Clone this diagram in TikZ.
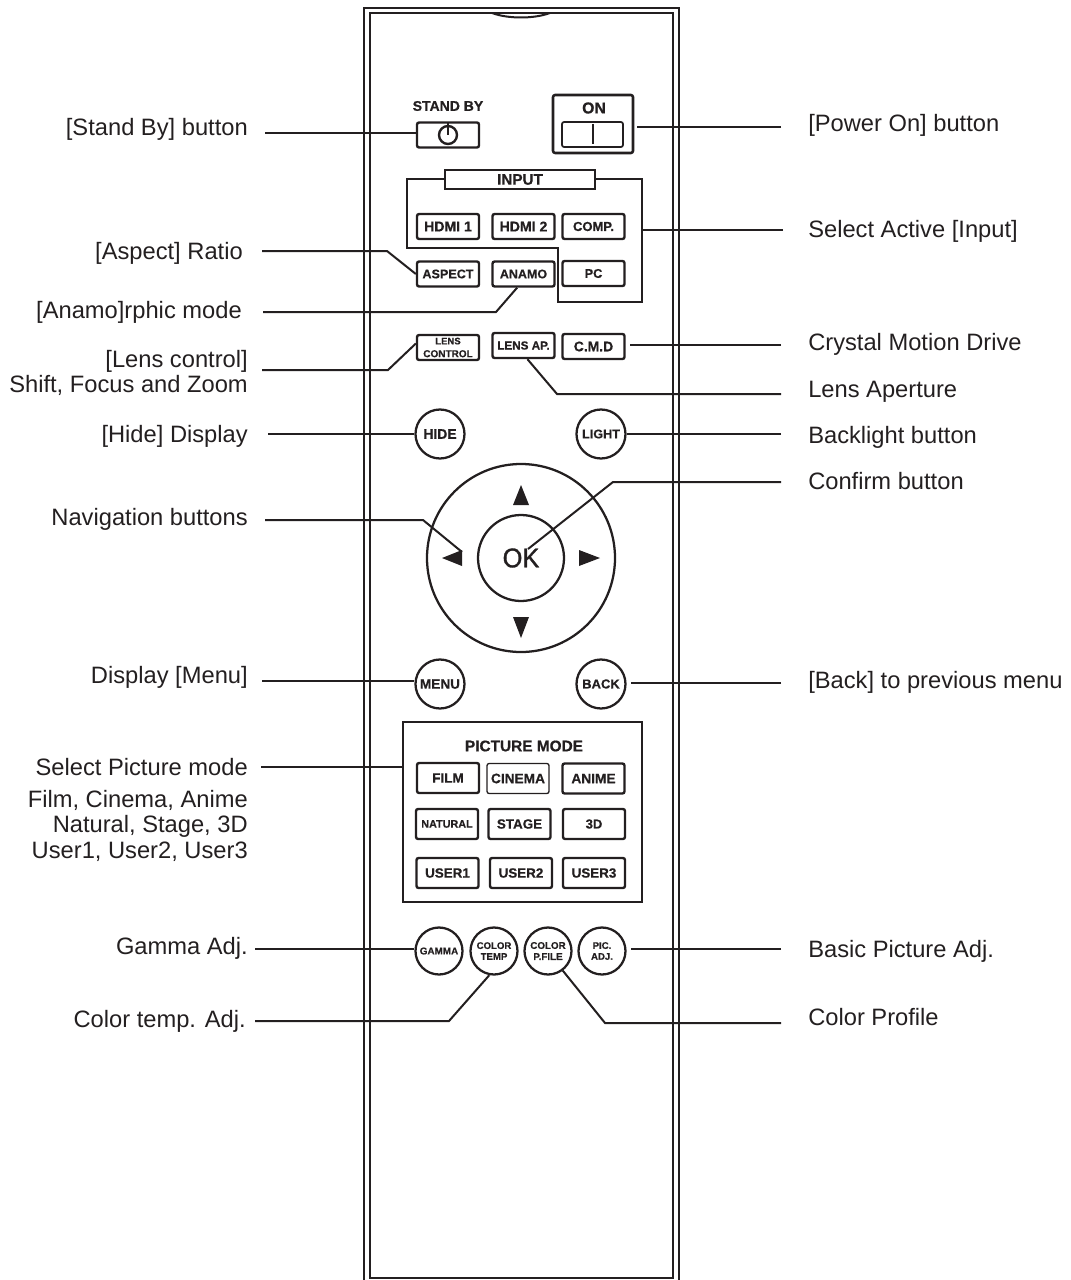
\documentclass[tikz,border=0pt]{standalone}
\usepackage{fontspec}
\setmainfont[BoldFeatures={FakeBold=0.6}]{Liberation Sans}
\newfontface\okface[FakeBold=1.2,FakeStretch=0.94]{Liberation Sans}
\usetikzlibrary{calc}
\definecolor{ink}{HTML}{231F20}
\newcommand{\pxf}[1]{\fontsize{\the\dimexpr #1pt*3/4\relax}{\the\dimexpr #1pt*9/10\relax}\selectfont}
\tikzset{
  rline/.style={draw=ink,line width=1.5pt},
  conn/.style={draw=ink,line width=1.5pt,line join=miter},
  btn/.style={draw=ink,line width=1.8pt,rounded corners=1.6pt,inner sep=0pt,text=ink,minimum width=46.5pt,minimum height=18.75pt,align=center},
  pbtn/.style={btn,minimum height=22.5pt},
  rnd/.style={draw=ink,line width=1.7pt,circle,inner sep=0pt,text=ink,minimum size=36.75pt,align=center},
  rnds/.style={rnd,minimum size=35.25pt},
  captxt/.style={inner sep=0pt,text=ink,font=\bfseries\pxf{14}},
  lbl/.style={inner sep=0pt,text=ink,font=\pxf{23.7},text height=12.8pt,text depth=0pt},
  lblL/.style={lbl,anchor=east},
  lblR/.style={lbl,anchor=west},
}
\begin{document}
\begin{tikzpicture}[x=0.75pt,y=-0.75pt]
\useasboundingbox (0,0) rectangle (1070,1280);
% body of the remote
\draw[rline,line width=1.8pt] (364,1280) -- (364,8) -- (679,8) -- (679,1280);
\draw[rline,line width=1.8pt] (370,13) rectangle (673,1278);
\draw[rline] (492,13) .. controls (508,19) and (534,19) .. (550,13);
% top buttons
\node[captxt,font=\bfseries\pxf{14}] (standbycap) at (448,106) {STAND BY};
\node[btn] (standby) at (448,135) {};
\draw[rline,line width=1.8pt] (448,135) circle (9);
\draw[rline,line width=1.8pt] (448,123) -- (448,135);
\node[btn,line width=1.9pt,minimum width=60pt,minimum height=43.5pt] (on) at (593,124) {};
\node[captxt,font=\bfseries\pxf{15.8}] (oncap) at (594,108) {ON};
\node[btn,line width=1.3pt,minimum width=45.75pt,minimum height=18.75pt] (onsw) at (592.5,134.5) {};
\draw[rline] (593,124) -- (593,144);
% input group
\draw[rline] (445,179) -- (407,179) -- (407,248) -- (558,248) -- (558,302) -- (642,302) -- (642,179) -- (595,179);
\node[btn,rounded corners=0pt,minimum width=112.5pt,minimum height=14.25pt,font=\bfseries\pxf{15.3}] (input) at (520,179.5) {INPUT};
\node[btn,font=\bfseries\pxf{14.1}] (hdmi1) at (448,226.5) {HDMI 1};
\node[btn,font=\bfseries\pxf{14.1}] (hdmi2) at (523.5,226.5) {HDMI 2};
\node[btn,font=\bfseries\pxf{13}] (comp) at (593.5,226.5) {COMP.};
\node[btn,font=\bfseries\pxf{12.6}] (aspect) at (448,274) {ASPECT};
\node[btn,font=\bfseries\pxf{12.5}] (anamo) at (523.5,274) {ANAMO};
\node[btn,font=\bfseries\pxf{12.7}] (pc) at (593.5,273.5) {PC};
% lens row
\node[btn,font=\bfseries\pxf{10}] (lensctl) at (448,347.5) {\pxf{9.5}\bfseries LENS\\[0.6pt]\pxf{10}\bfseries CONTROL};
\node[btn,font=\bfseries\pxf{11.7}] (lensap) at (523.5,345.5) {LENS AP.};
\node[btn,font=\bfseries\pxf{13.9}] (cmd) at (593.5,346.5) {C.M.D};
% round buttons
\node[rnd,font=\bfseries\pxf{13.9}] (hide) at (440,434) {HIDE};
\node[rnd,font=\bfseries\pxf{12.6}] (light) at (601,434) {LIGHT};
\node[rnd,font=\bfseries\pxf{13.6}] (menu) at (440,684) {MENU};
\node[rnd,font=\bfseries\pxf{13}] (back) at (601,684) {BACK};
% navigation
\node[draw=ink,line width=1.7pt,circle,minimum size=141pt,inner sep=0pt] (nav) at (521,558) {};
\node[draw=ink,line width=1.7pt,circle,minimum size=64.5pt,inner sep=0pt,text=ink,font=\okface\pxf{27}] (ok) at (521,558) {OK};
\fill[ink] (521,485) -- (529,505) -- (513,505) -- cycle;
\fill[ink] (521,638) -- (529,617) -- (513,617) -- cycle;
\fill[ink] (442,558) -- (462,550) -- (462,566) -- cycle;
\fill[ink] (600,558) -- (579,550) -- (579,566) -- cycle;
% picture mode
\node[draw=ink,line width=1.5pt,minimum width=179.25pt,minimum height=135pt,inner sep=0pt] (picbox) at (522.5,812) {};
\node[captxt,font=\bfseries\pxf{15.4}] (piccap) at (524,746) {PICTURE MODE};
\node[pbtn,font=\bfseries\pxf{13.6}] (film) at (448,778) {FILM};
\node[pbtn,line width=1pt,font=\bfseries\pxf{13.7}] (cinema) at (518,778.5) {CINEMA};
\node[pbtn,font=\bfseries\pxf{13.7}] (anime) at (593.5,778.5) {ANIME};
\node[pbtn,font=\bfseries\pxf{10.8}] (natural) at (447,824) {NATURAL};
\node[pbtn,font=\bfseries\pxf{13.4}] (stage) at (519.5,824) {STAGE};
\node[pbtn,font=\bfseries\pxf{13}] (three) at (594,824) {3D};
\node[pbtn,font=\bfseries\pxf{13.4}] (user1) at (447.5,873) {USER1};
\node[pbtn,font=\bfseries\pxf{13.4}] (user2) at (521,873) {USER2};
\node[pbtn,font=\bfseries\pxf{13.4}] (user3) at (594,873) {USER3};
% bottom round buttons
\node[rnds,font=\bfseries\pxf{9.9}] (gamma) at (439,951) {GAMMA};
\node[rnds,font=\bfseries\pxf{9.6}] (ctemp) at (494,951) {COLOR\\[-0.5pt]TEMP};
\node[rnds,font=\bfseries\pxf{9.8}] (cfile) at (548,951) {COLOR\\[-0.5pt]P.FILE};
\node[rnds,font=\bfseries\pxf{9.6}] (picadj) at (602,951) {PIC.\\[-0.5pt]ADJ.};
% labels left
\node[lblL] (lstandby) at (248,127) {[Stand By] button};
\node[lblL] (laspect) at (243,251) {[Aspect] Ratio};
\node[lblL] (lanamo) at (242,310) {[Anamo]rphic mode};
\node[lblL] (llens) at (248,359) {[Lens control]};
\node[lblL] (lshift) at (248,384) {Shift, Focus and Zoom};
\node[lblL] (lhide) at (248,434) {[Hide] Display};
\node[lblL] (lnav) at (248,517) {Navigation buttons};
\node[lblL] (lmenu) at (248,675) {Display [Menu]};
\node[lblL] (lpic) at (248,767) {Select Picture mode};
\node[lblL] (lpic1) at (248,799) {Film, Cinema, Anime};
\node[lblL] (lpic2) at (248,824) {Natural, Stage, 3D};
\node[lblL] (lpic3) at (248,850) {User1, User2, User3};
\node[lblL] (lgamma) at (248,946) {Gamma Adj.};
\node[lblL] (lctemp) at (246,1019) {Color temp. Adj.};
% labels right
\node[lblR] (ron) at (808,123) {[Power On] button};
\node[lblR] (rinput) at (808,229) {Select Active [Input]};
\node[lblR] (rcmd) at (808,342) {Crystal Motion Drive};
\node[lblR] (rap) at (808,389) {Lens Aperture};
\node[lblR] (rlight) at (808,435) {Backlight button};
\node[lblR] (rok) at (808,481) {Confirm button};
\node[lblR] (rback) at (808,680) {[Back] to previous menu};
\node[lblR] (rpic) at (808,949) {Basic Picture Adj.};
\node[lblR] (rprof) at (808,1017) {Color Profile};
% free ends of connectors
\coordinate (cstandby) at (265,133);
\coordinate (caspect) at (262,251);
\coordinate (canamo) at (263,312);
\coordinate (clens) at (262,370);
\coordinate (chide) at (268,434);
\coordinate (cnav) at (265,520);
\coordinate (cmenu) at (262,681);
\coordinate (cpic) at (261,767);
\coordinate (cgamma) at (255,949);
\coordinate (cctemp) at (255,1021);
\coordinate (con) at (781,127);
\coordinate (cinput) at (783,230);
\coordinate (ccmd) at (781,345);
\coordinate (cap1) at (781,394);
\coordinate (clight) at (781,434);
\coordinate (cok) at (781,482);
\coordinate (cback) at (781,683);
\coordinate (cpicadj) at (781,949);
\coordinate (cprof) at (781,1023);
\coordinate (okend) at (528,549);
\coordinate (navend) at (462,552);
\coordinate (inputedge) at (642,230);
% connectors
\draw[conn] (cstandby) -- (cstandby -| standby.west);
\draw[conn] (caspect) -- (387,251) -- (aspect.west);
\draw[conn] (canamo) -- (496,312) -- (anamo.245);
\draw[conn] (clens) -- (388,370) -- (lensctl.173);
\draw[conn] (chide) -- (hide.west);
\draw[conn] (cnav) -- (423,520) -- (navend);
\draw[conn] (cmenu) -- (cmenu -| menu.west);
\draw[conn] (cpic) -- (cpic -| picbox.west);
\draw[conn] (cgamma) -- (cgamma -| gamma.west);
\draw[conn] (cctemp) -- (449,1021) -- (ctemp.259);
\draw[conn,shorten >=2pt] (con) -- (con -| on.east);
\draw[conn] (cinput) -- (inputedge);
\draw[conn,shorten >=3pt] (ccmd) -- (ccmd -| cmd.east);
\draw[conn] (cap1) -- (557,394) -- (lensap.286);
\draw[conn] (clight) -- (light.east);
\draw[conn] (cok) -- (613,482) -- (okend);
\draw[conn,shorten >=3pt] (cback) -- (cback -| back.east);
\draw[conn,shorten >=3pt] (cpicadj) -- (cpicadj -| picadj.east);
\draw[conn] (cprof) -- (605,1023) -- (cfile.307);
\end{tikzpicture}
\end{document}
